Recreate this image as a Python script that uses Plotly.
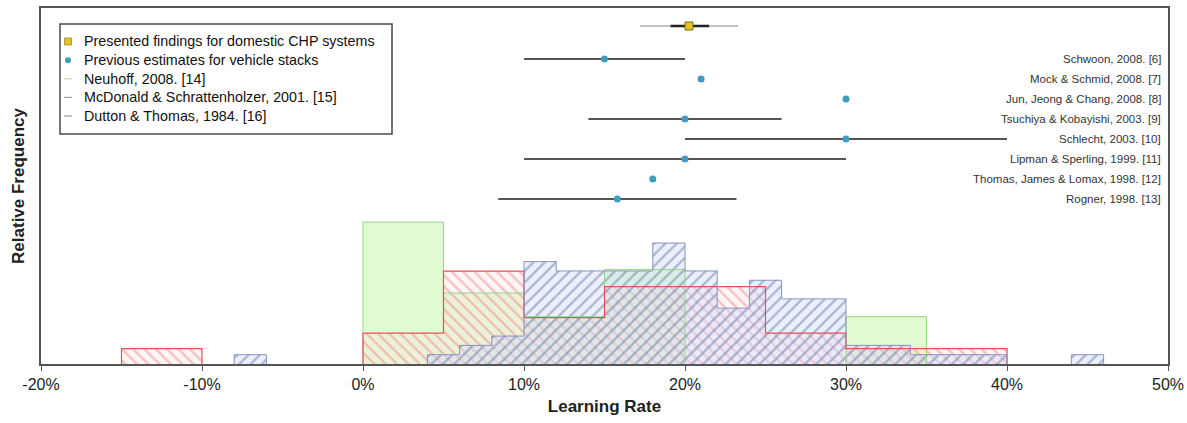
import plotly.graph_objects as go

# ---------------- data ----------------
x_tickvals = [-20, -10, 0, 10, 20, 30, 40, 50]
x_ticktext = ["-20%", "-10%", "0%", "10%", "20%", "30%", "40%", "50%"]

# Histograms (bin left edge in %, bin width in %, counts)
neuhoff_left = [0, 5, 10, 15, 30]
neuhoff_width = 5
neuhoff_counts = [6, 3, 2, 4, 2]

mcdonald_left = [-15, 0, 5, 10, 15, 20, 25, 30, 35]
mcdonald_width = 5
mcdonald_counts = [1, 2, 6, 3, 5, 5, 2, 1, 1]

dutton_left = [-8, 4, 6, 8, 10, 12, 14, 16, 18, 20, 22, 24, 26, 28, 30, 32, 34, 36, 38, 44]
dutton_width = 2
dutton_counts = [1, 1, 2, 3, 11, 10, 10, 10, 13, 10, 6, 9, 7, 7, 2, 2, 1, 1, 1, 1]

# Presented findings for domestic CHP systems
chp_mid = 20.25
chp_outer = [17.2, 23.3]
chp_inner = [19.1, 21.5]

# Previous estimates for vehicle stacks
est_labels = [
    "Schwoon, 2008. [6]",
    "Mock & Schmid, 2008. [7]",
    "Jun, Jeong & Chang, 2008. [8]",
    "Tsuchiya & Kobayishi, 2003. [9]",
    "Schlecht, 2003. [10]",
    "Lipman & Sperling, 1999. [11]",
    "Thomas, James & Lomax, 1998. [12]",
    "Rogner, 1998. [13]",
]
est_mid = [15, 21, 30, 20, 30, 20, 18, 15.8]
est_low = [10, None, None, 14, 20, 10, None, 8.4]
est_high = [20, None, None, 26, 40, 30, None, 23.2]

legend_labels = [
    "Presented findings for domestic CHP systems",
    "Previous estimates for vehicle stacks",
    "Neuhoff, 2008. [14]",
    "McDonald & Schrattenholzer, 2001. [15]",
    "Dutton & Thomas, 1984. [16]",
]

FONT = "Liberation Sans, Arial, sans-serif"

W, H = 1187, 423
ML, MR, MT, MB = 41, 19, 8, 59
PW, PH = W - ML - MR, H - MT - MB


def px_x(p):
    return (p - ML) / PW


def px_y(p):
    return 1 - (p - MT) / PH


def density(counts, width):
    n = sum(counts)
    return [c / (n * width) for c in counts]


def outline(left, width, dens):
    xs, ys = [], []
    prev_r = None
    for l, d in zip(left, dens):
        r = l + width
        if prev_r is None or abs(l - prev_r) > 1e-9:
            if prev_r is not None:
                xs += [prev_r, None]
                ys += [0, None]
            xs.append(l)
            ys.append(0)
        xs += [l, r]
        ys += [d, d]
        prev_r = r
    xs.append(prev_r)
    ys.append(0)
    return xs, ys


fig = go.Figure()

hists = [
    ("Neuhoff", neuhoff_left, neuhoff_width, neuhoff_counts,
     dict(color="rgba(214,248,195,0.75)"), "#98d488", 1),
    ("McDonald", mcdonald_left, mcdonald_width, mcdonald_counts,
     dict(color="rgba(255,226,226,0.35)",
          pattern=dict(shape="\\", fgcolor="#ee8c8c", size=8, solidity=0.3,
                       fillmode="overlay")), "#e8505a", 1.2),
    ("Dutton", dutton_left, dutton_width, dutton_counts,
     dict(color="rgba(212,222,250,0.45)",
          pattern=dict(shape="/", fgcolor="#717aab", size=8, solidity=0.3,
                       fillmode="overlay")), "#8a92c0", 1),
]

for name, left, width, counts, marker, _, _ in hists:
    dens = density(counts, width)
    fig.add_trace(go.Bar(
        x=[l + width / 2 for l in left], y=dens, width=[width] * len(left),
        marker=dict(line=dict(width=0), **marker),
        showlegend=False, hoverinfo="skip", name=name,
    ))

for name, left, width, counts, _, lc, lw in hists:
    dens = density(counts, width)
    xs, ys = outline(left, width, dens)
    fig.add_trace(go.Scatter(
        x=xs, y=ys, mode="lines", line=dict(color=lc, width=lw),
        showlegend=False, hoverinfo="skip",
    ))

# Point estimates on secondary y axis (row positions)
rows = list(range(1, len(est_labels) + 1))
err_plus = [(h - m) if h is not None else 0 for h, m in zip(est_high, est_mid)]
err_minus = [(m - l) if l is not None else 0 for l, m in zip(est_low, est_mid)]

BLUE = "#3d9cbf"
YELLOW = "#e6c21e"

fig.add_trace(go.Scatter(
    x=est_mid, y=rows, yaxis="y2", mode="markers",
    marker=dict(symbol="circle", size=7, color=BLUE),
    error_x=dict(type="data", symmetric=False, array=err_plus,
                 arrayminus=err_minus, color="#555555", thickness=2, width=0),
    name=legend_labels[1], showlegend=False,
))

chp_row = -0.65
fig.add_trace(go.Scatter(
    x=[chp_mid], y=[chp_row], yaxis="y2", mode="markers",
    marker=dict(size=0.1, color="rgba(0,0,0,0)"),
    error_x=dict(type="data", symmetric=False, array=[chp_outer[1] - chp_mid],
                 arrayminus=[chp_mid - chp_outer[0]], color="#888888",
                 thickness=1, width=0),
    showlegend=False, hoverinfo="skip",
))
fig.add_trace(go.Scatter(
    x=[chp_mid], y=[chp_row], yaxis="y2", mode="markers",
    marker=dict(symbol="square", size=8, color=YELLOW,
                line=dict(color="#7a6a20", width=1)),
    error_x=dict(type="data", symmetric=False, array=[chp_inner[1] - chp_mid],
                 arrayminus=[chp_mid - chp_inner[0]], color="#222222",
                 thickness=2.5, width=0),
    name=legend_labels[0], showlegend=False,
))

for lab, r in zip(est_labels, rows):
    fig.add_annotation(x=1, xref="paper", xanchor="right", xshift=-5,
                       y=r, yref="y2", text=lab, showarrow=False,
                       font=dict(family=FONT, size=11.5, color="#333333"))

# ---------------- legend box (drawn) ----------------
shapes = []
shapes.append(dict(type="rect", xref="paper", yref="paper",
                   x0=px_x(60), x1=px_x(392), y0=px_y(134), y1=px_y(24),
                   line=dict(color="#4a4a4a", width=1.5), fillcolor="white",
                   layer="above"))
row_y = [41.5, 60.2, 78.8, 97.4, 116]
sym_x = 68
# yellow square
shapes.append(dict(type="rect", xref="paper", yref="paper",
                   x0=px_x(sym_x - 3.5), x1=px_x(sym_x + 3.5),
                   y0=px_y(row_y[0] + 3.5), y1=px_y(row_y[0] - 3.5),
                   fillcolor=YELLOW, line=dict(color="#9a8a30", width=0.8),
                   layer="above"))
# blue circle
shapes.append(dict(type="circle", xref="paper", yref="paper",
                   x0=px_x(sym_x - 3), x1=px_x(sym_x + 3),
                   y0=px_y(row_y[1] + 3), y1=px_y(row_y[1] - 3),
                   fillcolor=BLUE, line=dict(color=BLUE, width=0),
                   layer="above"))
for ry, col in zip(row_y[2:], ["#d9d99a", "#a39a9a", "#939aaa"]):
    shapes.append(dict(type="line", xref="paper", yref="paper",
                       x0=px_x(sym_x - 4), x1=px_x(sym_x + 4),
                       y0=px_y(ry), y1=px_y(ry),
                       line=dict(color=col, width=1.2), layer="above"))
for ry, lab in zip(row_y, legend_labels):
    fig.add_annotation(x=px_x(82), y=px_y(ry), xref="paper", yref="paper",
                       xanchor="left", yanchor="middle", text=lab,
                       showarrow=False,
                       font=dict(family=FONT, size=14.3, color="#111111"))

fig.update_layout(
    width=W, height=H,
    margin=dict(l=ML, r=MR, t=MT, b=MB),
    paper_bgcolor="white", plot_bgcolor="white",
    barmode="overlay",
    shapes=shapes,
    showlegend=False,
    font=dict(family=FONT, color="#222222"),
    xaxis=dict(range=[-20, 50], tickvals=x_tickvals, ticktext=x_ticktext,
               automargin=False,
               showgrid=False, zeroline=False, showline=True, mirror=True,
               linecolor="#555555", linewidth=1.5, ticks="outside",
               ticklen=5, tickcolor="#555555", tickwidth=1.2,
               tickfont=dict(size=16, color="#222222"),
               title=dict(text="<b>Learning Rate</b>", standoff=8,
                          font=dict(size=17, color="#222222"))),
    yaxis=dict(range=[0, 0.1771], showticklabels=False, ticks="",
               automargin=False,
               showgrid=False, zeroline=False, showline=True, mirror=True,
               linecolor="#555555", linewidth=1.5,
               title=dict(text="<b>Relative Frequency</b>", standoff=10,
                          font=dict(size=17, color="#222222"))),
    yaxis2=dict(overlaying="y", range=[16.25, -1.55], visible=False),
)

fig.write_html("out.html")
